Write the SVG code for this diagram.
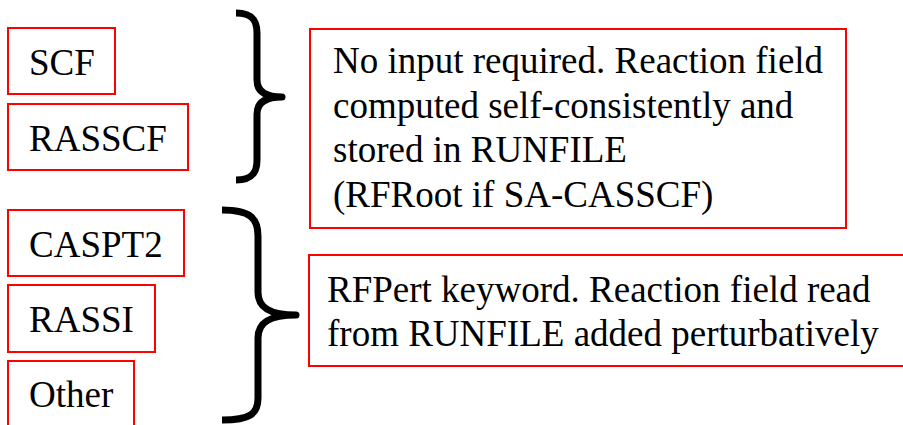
<svg xmlns="http://www.w3.org/2000/svg" width="903" height="425" viewBox="0 0 903 425">
<style>
.box{fill:#fff;stroke:#ff0000;stroke-width:2}
.t{font-family:"Liberation Serif","Times New Roman",serif;font-size:37px;fill:#000}
.brace{fill:none;stroke:#000;stroke-width:7;stroke-linecap:butt;stroke-linejoin:round}
</style>
<rect width="903" height="425" fill="#fff"/>
<g id="scf"><rect class="box" x="8" y="28" width="107" height="66"/><text class="t" x="29" y="75">SCF</text></g>
<g id="rasscf"><rect class="box" x="8" y="104" width="180" height="66"/><text class="t" x="29" y="151">RASSCF</text></g>
<g id="caspt2"><rect class="box" x="8" y="210" width="176" height="66"/><text class="t" x="29" y="257">CASPT2</text></g>
<g id="rassi"><rect class="box" x="8" y="285" width="147" height="67"/><text class="t" x="29" y="332">RASSI</text></g>
<g id="other"><rect class="box" x="8" y="361" width="126" height="80"/><text class="t" x="29" y="407">Other</text></g>
<g id="selfconsistent"><rect class="box" x="310" y="29" width="536" height="199"/>
<text class="t" x="333" y="73">No input required. Reaction field</text>
<text class="t" x="333" y="118">computed self-consistently and</text>
<text class="t" x="333" y="162">stored in RUNFILE</text>
<text class="t" x="333" y="207">(RFRoot if SA-CASSCF)</text></g>
<g id="perturbative"><rect class="box" x="309" y="255" width="610" height="111"/>
<text class="t" x="327" y="302">RFPert keyword. Reaction field read</text>
<text class="t" x="327" y="346">from RUNFILE added perturbatively</text></g>
<g id="connectors">
<path class="brace" d="M236,13 C252,13 257,20 257,33 L257,80 C257,92 266,97 282,97 C266,97 257,102 257,114 L257,160 C257,173 252,180 236,180"/>
<path class="brace" d="M222,210 C250,210 258,218 258,236 L258,292 C258,308 270,315 296,315 C270,315 258,322 258,338 L258,398 C258,414 250,420 222,420"/>
</g>
</svg>
